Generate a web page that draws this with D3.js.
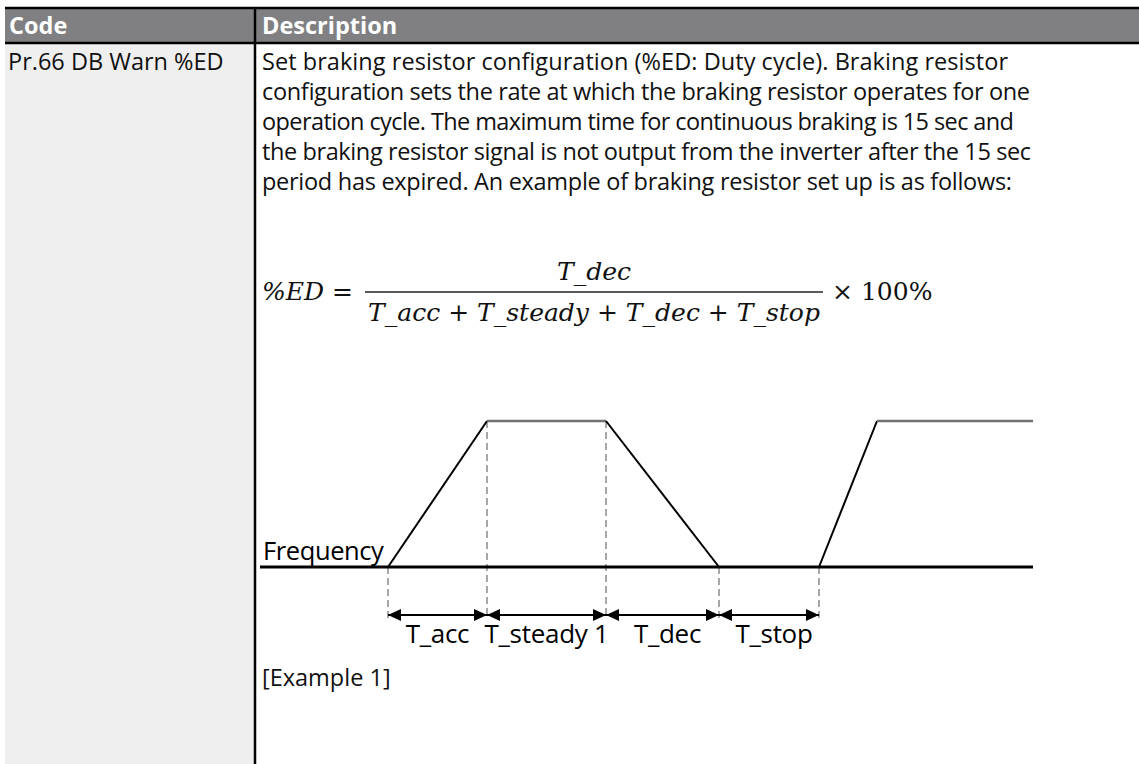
<!DOCTYPE html>
<html>
<head>
<meta charset="utf-8">
<script src="https://cdn.jsdelivr.net/npm/d3@7/dist/d3.min.js"></script>
<style>
  html, body { margin: 0; padding: 0; background: #ffffff; }
  svg { display: block; }
</style>
</head>
<body>
<div id="chart"></div>
<script>
// ---------------- data ----------------
const headerLabels = ["Code", "Description"];
const codeLabel = "Pr.66 DB Warn %ED";
const descriptionLines = [
  "Set braking resistor configuration (%ED: Duty cycle). Braking resistor",
  "configuration sets the rate at which the braking resistor operates for one",
  "operation cycle. The maximum time for continuous braking is 15 sec and",
  "the braking resistor signal is not output from the inverter after the 15 sec",
  "period has expired. An example of braking resistor set up is as follows:"
];
const formulaLeft = "%ED =";
const formulaNumerator = "T_dec";
const formulaDenominator = "T_acc + T_steady + T_dec + T_stop";
const formulaRight = "× 100%";

// frequency profile (time in arbitrary units, frequency normalised 0..1)
const profileTime = [0, 1.28, 2.27, 3.46, 4.59, 5.59, 6.17, 7.73];
const profileFreq = [0, 0, 1, 1, 0, 0, 1, 1];
// period boundaries and their labels
const periodBounds = [1.28, 2.27, 3.46, 4.59, 5.59];
const periodLabels = ["T_acc", "T_steady 1", "T_dec", "T_stop"];
const axisLabel = "Frequency";
const exampleLabel = "[Example 1]";

// ---------------- layout ----------------
const W = 1139, H = 764;
const tableLeft = 5, colDiv = 255, headerTop = 8, headerBottom = 43;
const textX = 262;
const lineWidths = [746, 768, 752, 769, 750]; // rendered widths of the wrapped lines

const svg = d3.select("#chart").append("svg")
  .attr("width", W).attr("height", H);

// left column background
svg.append("rect").attr("x", tableLeft).attr("y", headerBottom)
  .attr("width", colDiv - tableLeft).attr("height", H - headerBottom)
  .attr("fill", "#efefef");
// header
svg.append("rect").attr("x", tableLeft).attr("y", headerTop)
  .attr("width", W - tableLeft).attr("height", headerBottom - headerTop)
  .attr("fill", "#808083");
svg.append("line").attr("x1", tableLeft).attr("x2", W)
  .attr("y1", headerTop).attr("y2", headerTop)
  .attr("stroke", "#000").attr("stroke-width", 2.5);
svg.append("line").attr("x1", tableLeft).attr("x2", W)
  .attr("y1", headerBottom).attr("y2", headerBottom)
  .attr("stroke", "#000").attr("stroke-width", 2.5);
// column divider
svg.append("line").attr("x1", colDiv).attr("x2", colDiv)
  .attr("y1", headerTop).attr("y2", H)
  .attr("stroke", "#000").attr("stroke-width", 2.5);

const sans = "'Open Sans', 'Noto Sans', sans-serif";

svg.selectAll("text.hdr").data(headerLabels).join("text")
  .attr("class", "hdr")
  .attr("x", (d, i) => i === 0 ? 9 : textX)
  .attr("y", 34)
  .attr("font-family", sans).attr("font-weight", 700).attr("font-size", 23.5)
  .attr("fill", "#ffffff").text(d => d);

svg.append("text").attr("x", 8).attr("y", 70)
  .attr("font-family", sans).attr("font-size", 23.5).attr("fill", "#111")
  .text(codeLabel);

svg.selectAll("text.desc").data(descriptionLines).join("text")
  .attr("class", "desc")
  .attr("x", textX)
  .attr("y", (d, i) => 70 + i * 30)
  .attr("font-family", sans).attr("font-size", 23.5).attr("fill", "#111")
  .attr("textLength", (d, i) => lineWidths[i])
  .attr("lengthAdjust", "spacing")
  .text(d => d);

// ---------------- formula ----------------
const serif = "'DejaVu Serif', 'Liberation Serif', serif";
const fy = 292;
const fracX0 = 365, fracX1 = 823;
const probe = svg.append("text").attr("font-family", serif).attr("font-style", "italic")
  .attr("font-size", 20).text(formulaDenominator);
const probeW = probe.node().getComputedTextLength();
probe.remove();
const ffs = 20 * (fracX1 - fracX0 - 6) / probeW;

svg.append("text").attr("x", textX).attr("y", fy + 8)
  .attr("font-family", serif).attr("font-style", "italic").attr("font-size", ffs)
  .attr("fill", "#111").text(formulaLeft);
svg.append("line").attr("x1", fracX0).attr("x2", fracX1)
  .attr("y1", fy).attr("y2", fy).attr("stroke", "#222").attr("stroke-width", 1.6);
svg.append("text").attr("x", (fracX0 + fracX1) / 2).attr("y", fy - 12)
  .attr("text-anchor", "middle")
  .attr("font-family", serif).attr("font-style", "italic").attr("font-size", ffs)
  .attr("fill", "#111").text(formulaNumerator);
svg.append("text").attr("x", (fracX0 + fracX1) / 2).attr("y", fy + 29)
  .attr("text-anchor", "middle")
  .attr("font-family", serif).attr("font-style", "italic").attr("font-size", ffs)
  .attr("fill", "#111").text(formulaDenominator);
svg.append("text").attr("x", fracX1 + 9).attr("y", fy + 8)
  .attr("font-family", serif).attr("font-size", ffs)
  .attr("fill", "#111").text(formulaRight);

// ---------------- diagram ----------------
const x = d3.scaleLinear().domain([0, 7.73]).range([260, 1033]);
const y = d3.scaleLinear().domain([0, 1]).range([567, 421]);
const arrowY = 615;

const defs = svg.append("defs");
defs.append("marker").attr("id", "ah").attr("viewBox", "0 0 10 10")
  .attr("refX", 10).attr("refY", 5).attr("markerWidth", 13).attr("markerHeight", 12)
  .attr("markerUnits", "userSpaceOnUse").attr("orient", "auto-start-reverse")
  .attr("preserveAspectRatio", "none")
  .append("path").attr("d", "M0,0 L10,5 L0,10 Z").attr("fill", "#000");

// dashed guides
svg.selectAll("line.guide").data(periodBounds).join("line")
  .attr("class", "guide")
  .attr("x1", d => x(d)).attr("x2", d => x(d))
  .attr("y1", d => y(profileFreq[profileTime.indexOf(d)]))
  .attr("y2", arrowY + 3)
  .attr("stroke", "#8a8a8a").attr("stroke-width", 1.5)
  .attr("stroke-dasharray", "7,4");

// baseline
svg.append("line").attr("x1", x(0)).attr("x2", x(7.73))
  .attr("y1", y(0)).attr("y2", y(0))
  .attr("stroke", "#000").attr("stroke-width", 3);

// profile segments
const pts = profileTime.map((t, i) => [t, profileFreq[i]]);
const segs = d3.pairs(pts).filter(([a, b]) => !(a[1] === 0 && b[1] === 0));
svg.selectAll("line.seg").data(segs).join("line")
  .attr("class", "seg")
  .attr("x1", d => x(d[0][0])).attr("y1", d => y(d[0][1]))
  .attr("x2", d => x(d[1][0])).attr("y2", d => y(d[1][1]))
  .attr("stroke", d => d[0][1] === d[1][1] ? "#707070" : "#000")
  .attr("stroke-width", d => d[0][1] === d[1][1] ? 2.5 : 2);

// arrows
const periods = periodLabels.map((l, i) => ({ label: l, t0: periodBounds[i], t1: periodBounds[i + 1] }));
svg.selectAll("line.arrow").data(periods).join("line")
  .attr("class", "arrow")
  .attr("x1", d => x(d.t0)).attr("x2", d => x(d.t1))
  .attr("y1", arrowY).attr("y2", arrowY)
  .attr("stroke", "#000").attr("stroke-width", 2)
  .attr("marker-start", "url(#ah)").attr("marker-end", "url(#ah)");

svg.selectAll("text.plabel").data(periods).join("text")
  .attr("class", "plabel")
  .attr("x", (d, i) => (x(d.t0) + x(d.t1)) / 2 + (i >= 2 ? 5 : 0))
  .attr("y", arrowY + 28)
  .attr("text-anchor", "middle")
  .attr("font-family", sans).attr("font-size", 26).attr("font-weight", 500)
  .attr("letter-spacing", -0.3)
  .attr("fill", "#000").text(d => d.label);

svg.append("text").attr("x", 263).attr("y", y(0) - 7)
  .attr("font-family", sans).attr("font-size", 25.5).attr("font-weight", 500)
  .attr("letter-spacing", -0.4)
  .attr("fill", "#000").text(axisLabel);

svg.append("text").attr("x", 262).attr("y", 686)
  .attr("font-family", sans).attr("font-size", 23.5)
  .attr("fill", "#111").text(exampleLabel);
</script>
</body>
</html>
